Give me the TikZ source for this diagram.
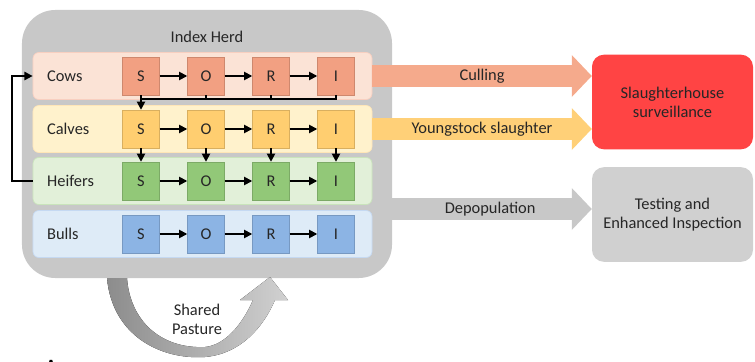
\documentclass[tikz,border=0pt]{standalone}
\usepackage{fontspec}
\setmainfont{Carlito}
\usetikzlibrary{arrows.meta,calc}
\definecolor{herdgray}{RGB}{200,200,200}
\definecolor{testgray}{RGB}{208,208,208}
\definecolor{cowbg}{RGB}{251,227,214}
\definecolor{cowfg}{RGB}{242,160,130}
\definecolor{calfbg}{RGB}{255,242,204}
\definecolor{calffg}{RGB}{255,206,112}
\definecolor{heiferbg}{RGB}{226,240,217}
\definecolor{heiferfg}{RGB}{146,200,120}
\definecolor{bullbg}{RGB}{222,235,247}
\definecolor{bullfg}{RGB}{140,180,228}
\definecolor{cullcol}{RGB}{245,170,140}
\definecolor{youngcol}{RGB}{255,208,120}
\definecolor{slaughtercol}{RGB}{255,68,68}

\begin{document}
\begin{tikzpicture}[x=0.03cm,y=-0.03cm,
  font=\fontsize{14}{16.4}\selectfont, text=black!85,
  herdbox/.style={fill=herdgray, rounded corners=1cm, minimum width=11.1cm, minimum height=8.04cm},
  panel/.style={rounded corners=5pt, minimum width=10.17cm, minimum height=1.41cm, line width=0.6pt},
  state/.style={minimum width=1.11cm, minimum height=1.14cm, line width=0.4pt, inner sep=0pt},
  flow/.style={line width=1.5pt, -{Triangle[length=7pt,width=7pt]}},
  fat/.style={line width=0.66cm, -{Triangle[length=0.6cm,width=1.26cm,line width=0pt]}},
  target/.style={rounded corners=0.36cm, minimum width=4.83cm, minimum height=2.84cm, align=center}]

\useasboundingbox (0,0) rectangle (755,361);

% index herd
\node[herdbox] (herd) at (207,144) {};
\node (title) at (207,37) {Index Herd};

\foreach \row/\lab/\yy/\bg/\fg in {cows/Cows/76/cowbg/cowfg, calves/Calves/129/calfbg/calffg,
    heifers/Heifers/181/heiferbg/heiferfg, bulls/Bulls/234/bullbg/bullfg}{
  \node[panel, fill=\bg, draw=\fg!50] (\row) at (202.5,\yy) {};
  \node[anchor=west] (\row-lab) at (43,\yy) {\lab};
  \foreach \s [count=\i] in {S,O,R,I}
    \node[state, fill=\fg, draw=\fg!85!black] (\row\s) at ({76+65*\i},\yy) {\s};
  \foreach \a/\b in {S/O,O/R,R/I}
    \draw[flow] (\row\a) -- (\row\b);
}

% movements between groups
\draw[line width=1.5pt] (cowsI.south) -- ++(0,4) -| (cowsS.south);
\draw[line width=1.5pt] (cowsO.south) -- ++(0,4);
\draw[line width=1.5pt] (cowsR.south) -- ++(0,4);
\draw[flow] (cowsS.south) -- (calvesS.north);
\foreach \s in {S,O,R,I}
  \draw[flow] (calves\s) -- (heifers\s);
\draw[flow] (heifers.west) -- ++(-21,0) |- (cows.west);

% outcomes
\node[target, fill=slaughtercol] (slaughter) at (672.5,102) {Slaughterhouse\\surveillance};
\node[target, fill=testgray] (testing) at (672.5,214.5) {Testing and\\Enhanced Inspection};

\draw[fat, cullcol] (cows.east) -- (cows.east -| slaughter.west)
  node[midway, text=black!85] {Culling};
\draw[fat, youngcol] (calves.east) -- (calves.east -| slaughter.west)
  node[midway, text=black!85] {Youngstock slaughter};
\coordinate (depop) at (380,209);
\draw[fat, herdgray] (depop) -- (depop -| testing.west)
  node[pos=0.52, text=black!85] {Depopulation};

% shared pasture
\fill[left color=black!45, right color=black!18]
  (107,278) .. controls (112,335) and (160,360) .. (205,357)
  .. controls (240,354) and (263,328) .. (275,300) -- (288,300) -- (270,277) -- (240,300) -- (253,300)
  .. controls (242,325) and (225,345) .. (205,347)
  .. controls (160,349) and (130,320) .. (127,278) -- cycle;
\node[align=center] (pasture) at (197,319) {Shared\\Pasture};

\node[anchor=north, font=\fontsize{16}{18}\selectfont\bfseries, text=black] (panel-A) at (51,356) {A};
\end{tikzpicture}
\end{document}
